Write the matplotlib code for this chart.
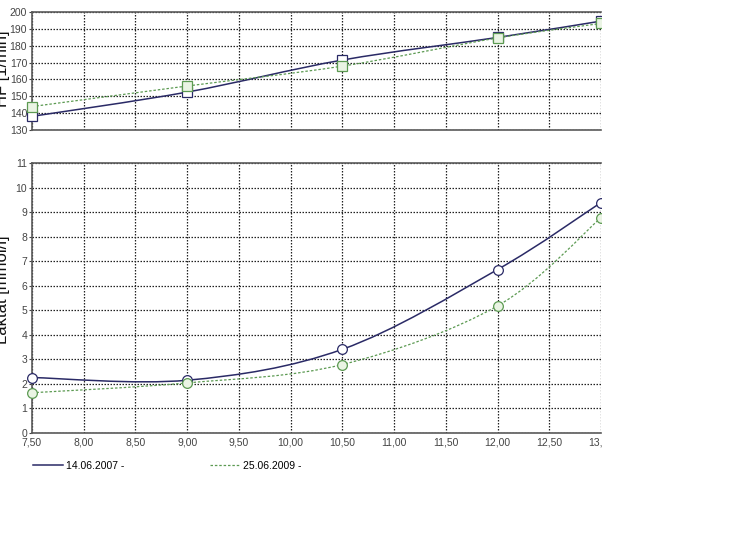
import matplotlib.pyplot as plt
import numpy as np
from matplotlib.path import Path
from matplotlib.patches import PathPatch, Rectangle
from matplotlib.lines import Line2D
from matplotlib.ticker import FuncFormatter, MultipleLocator

# speed [km/h]
speed = [7.5, 9.0, 10.5, 12.0, 13.0]

# heart rate [1/min]
hf_2007 = [138.1, 152.5, 171.5, 184.9, 194.6]
hf_2009 = [143.9, 156.1, 167.9, 184.6, 193.2]

# lactate [mmol/l]
lak_2007 = [2.26, 2.15, 3.41, 6.66, 9.39]
lak_2009 = [1.64, 2.04, 2.79, 5.18, 8.77]

labels = ["14.06.2007 -", "25.06.2009 -"]

BLUE = "#2a2a66"
GREEN = "#5c9a52"
GRID = "#222222"
SPINE = "#5a5a5a"

plt.rcParams["font.family"] = ["Liberation Sans", "DejaVu Sans"]


def smooth(ax, xs, ys, **kw):
    # Catmull-Rom spline drawn as cubic bezier segments
    xs = np.asarray(xs, float)
    ys = np.asarray(ys, float)
    pts = np.column_stack([xs, ys])
    verts = [pts[0]]
    codes = [Path.MOVETO]
    n = len(pts)
    for i in range(n - 1):
        p0 = pts[i - 1] if i > 0 else pts[i]
        p1, p2 = pts[i], pts[i + 1]
        p3 = pts[i + 2] if i + 2 < n else pts[i + 1]
        c1 = p1 + (p2 - p0) / 6
        c2 = p2 - (p3 - p1) / 6
        verts += [c1, c2, p2]
        codes += [Path.CURVE4] * 3
    patch = PathPatch(Path(verts, codes), fill=False, transform=ax.transData, **kw)
    ax.add_patch(patch)
    return patch


def style(ax):
    for s in ["top", "bottom", "left"]:
        ax.spines[s].set_color(SPINE)
        ax.spines[s].set_linewidth(1.2)
    ax.spines["right"].set_visible(False)
    ax.set_xlim(7.5, 13.0)
    ax.xaxis.set_major_locator(MultipleLocator(0.5))
    ax.grid(True, color=GRID, linestyle=(0, (1.2, 1.2)), linewidth=0.9)
    ax.tick_params(axis="y", length=2, pad=1.5, labelsize=7.5, colors="#444444")
    ax.tick_params(axis="x", length=0, pad=3, labelsize=7.5, colors="#444444")


fig = plt.figure(figsize=(7.55, 5.43), dpi=100)
W, H = 755, 543
left, right = 32 / W, 601 / W
ax1 = fig.add_axes([left, 1 - 130 / H, right - left, 118 / H])
ax2 = fig.add_axes([left, 1 - 433 / H, right - left, 270 / H])

# heart rate
style(ax1)
ax1.set_ylim(130, 200)
ax1.yaxis.set_major_locator(MultipleLocator(10))
ax1.tick_params(axis="x", labelbottom=False)
smooth(ax1, speed, hf_2007, edgecolor=BLUE, linewidth=1.1, zorder=3)
smooth(ax1, speed, hf_2009, edgecolor=GREEN, linewidth=0.9, linestyle=(0, (2, 1.5)), zorder=3)
m1 = ax1.plot(speed, hf_2007, ls="none", marker="s", ms=7, mfc="white", mec=BLUE, mew=0.9, zorder=4)
m2 = ax1.plot(speed, hf_2009, ls="none", marker="s", ms=7, mfc="#eaf4e4", mec=GREEN, mew=0.9, zorder=4)

# lactate
style(ax2)
ax2.set_ylim(0, 11)
ax2.yaxis.set_major_locator(MultipleLocator(1))
ax2.xaxis.set_major_formatter(FuncFormatter(lambda v, p: f"{v:.2f}".replace(".", ",")))
smooth(ax2, speed, lak_2007, edgecolor=BLUE, linewidth=1.1, zorder=3)
smooth(ax2, speed, lak_2009, edgecolor=GREEN, linewidth=0.9, linestyle=(0, (2, 1.5)), zorder=3)
m3 = ax2.plot(speed, lak_2007, ls="none", marker="o", ms=7, mfc="white", mec=BLUE, mew=0.9, zorder=4)
m4 = ax2.plot(speed, lak_2009, ls="none", marker="o", ms=7, mfc="#eaf4e4", mec=GREEN, mew=0.9, zorder=4)

for ln in m1 + m2 + m3 + m4:
    ln.set_clip_on(False)

# y labels sit half outside the (cropped) screenshot
fig.text(10 / W, 1 - 69 / H, "HF [1/min]", rotation=90, ha="right", va="center",
         fontsize=12, color="#111111")
fig.text(10 / W, 1 - 290 / H, "Laktat [mmol/l]", rotation=90, ha="right", va="center",
         fontsize=12, color="#111111")

# legend below the chart
leg_handles = [
    Line2D([], [], color=BLUE, linewidth=1.1),
    Line2D([], [], color=GREEN, linewidth=0.9, linestyle=(0, (2, 1.5))),
]
fig.legend(leg_handles, labels, loc="center left", bbox_to_anchor=(33 / W, 1 - 466 / H),
           ncol=2, frameon=False, fontsize=7.5, handlelength=2.9, handletextpad=0.3,
           columnspacing=8.2, borderaxespad=0, borderpad=0)

# the original screenshot is cropped on the right
fig.patches.append(Rectangle((601.5 / W, 0), 1, 1, transform=fig.transFigure,
                             facecolor="white", edgecolor="none", zorder=10))

fig.savefig("out.png", dpi=100)
